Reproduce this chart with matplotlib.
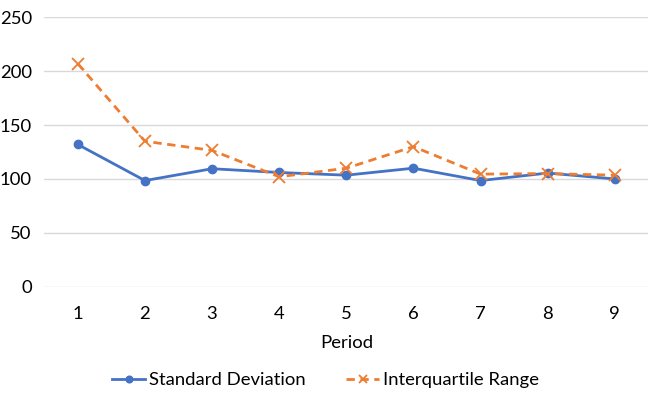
import matplotlib.pyplot as plt

periods = [1, 2, 3, 4, 5, 6, 7, 8, 9]
std_dev = [132, 98.5, 109.5, 106, 103.5, 110, 98.5, 105.5, 100]
iqr = [207, 135, 126.5, 102, 110, 130, 104.5, 105, 103.5]

plt.rcParams['font.family'] = ['Lato', 'DejaVu Sans']
fs = 13.3

fig = plt.figure(figsize=(6.51, 3.94), dpi=100)
ax = fig.add_axes([0.068, 0.2723, 0.928, 0.6837])

ax.plot(periods, std_dev, color='#4472C4', lw=2, marker='o', ms=6,
        label='Standard Deviation', zorder=3)
ax.plot(periods, iqr, color='#ED7D31', lw=2, ls=(0, (3, 2)), marker='x', ms=8,
        mew=1.3, label='Interquartile Range', zorder=3)

ax.set_xlim(0.5, 9.5)
ax.set_ylim(0, 250)
ax.set_yticks(range(0, 251, 50))
ax.set_xticks(periods)
ax.grid(axis='y', color='#D9D9D9', lw=1)
ax.set_axisbelow(True)
for s in ax.spines.values():
    s.set_visible(False)
ax.tick_params(length=0, labelsize=fs, colors='#000000')
ax.tick_params(axis='x', pad=14)
ax.tick_params(axis='y', pad=9)
ax.set_xlabel('Period', fontsize=fs, labelpad=9)

fig.legend(loc='center', bbox_to_anchor=(0.5, 0.035), ncol=2, frameon=False,
           fontsize=fs, handlelength=1.8, handletextpad=0.2, columnspacing=2.2,
           markerscale=0.8)

fig.savefig('out.png', dpi=100)
